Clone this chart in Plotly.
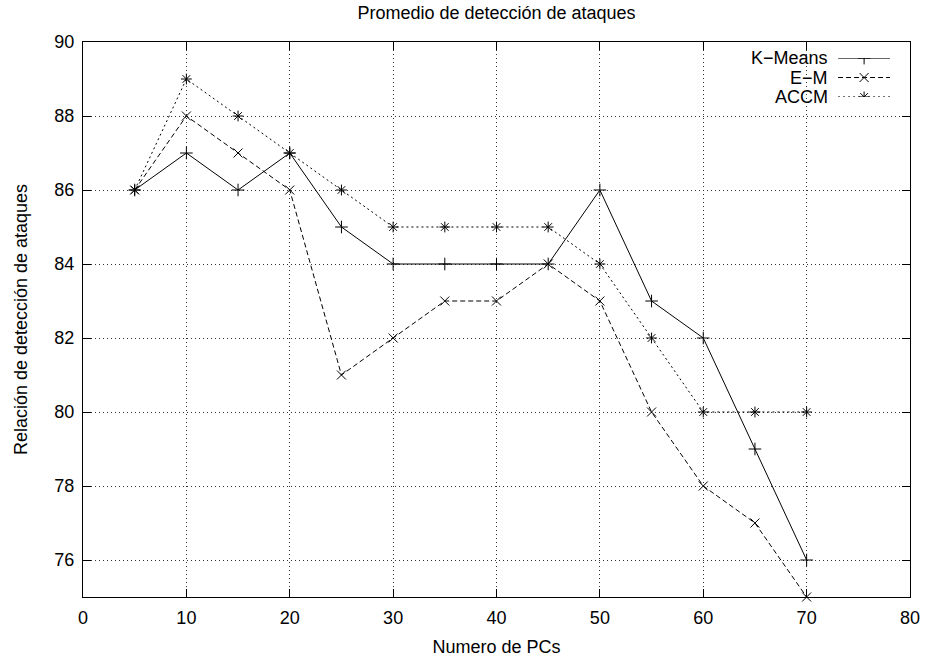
import plotly.graph_objects as go

pcs = [5, 10, 15, 20, 25, 30, 35, 40, 45, 50, 55, 60, 65, 70]
kmeans = [86, 87, 86, 87, 85, 84, 84, 84, 84, 86, 83, 82, 79, 76]
em = [86, 88, 87, 86, 81, 82, 83, 83, 84, 83, 80, 78, 77, 75]
accm = [86, 89, 88, 87, 86, 85, 85, 85, 85, 84, 82, 80, 80, 80]
names = ["K\u2212Means", "E\u2212M", "ACCM"]
dashes = ["solid", "5px,3px", "2px,3px"]
symbols = ["cross-thin-open", "x-thin-open", "asterisk-open"]

FONT = "Liberation Sans, Arial, sans-serif"
FS = 18
fig = go.Figure()
for vals, nm, d, s in zip([kmeans, em, accm], names, dashes, symbols):
    fig.add_trace(go.Scatter(x=pcs, y=vals, mode="lines+markers", name=nm,
                             line=dict(color="black", width=1, dash=d),
                             marker=dict(symbol=s, size=9, color="black",
                                         line=dict(color="black", width=1)),
                             showlegend=False, cliponaxis=False))

# gnuplot-style key (text left, sample right) on an overlay axis
leg_y = [0, 1, 2]
for i, (nm, d, s) in enumerate(zip(names, dashes, symbols)):
    fig.add_trace(go.Scatter(x=[0, 0.5, 1], y=[leg_y[i]] * 3, xaxis="x2", yaxis="y2",
                             mode="lines", line=dict(color="black", width=1, dash=d),
                             showlegend=False, hoverinfo="skip"))
    fig.add_trace(go.Scatter(x=[0.5], y=[leg_y[i]], xaxis="x2", yaxis="y2",
                             mode="markers", marker=dict(symbol=s, size=9, color="black",
                                                         line=dict(color="black", width=1)),
                             showlegend=False, hoverinfo="skip"))
    fig.add_annotation(x=0, y=leg_y[i], xref="x2", yref="y2", text=nm, showarrow=False,
                       xanchor="right", xshift=-8, font=dict(family=FONT, size=FS, color="black"))

axis_common = dict(showline=True, linecolor="black", linewidth=1, mirror="allticks",
                   ticks="inside", ticklen=8, tickcolor="black", showgrid=True,
                   gridcolor="#333333", griddash="1px,3px", gridwidth=1, zeroline=False,
                   automargin=False,
                   tickfont=dict(family=FONT, size=FS, color="black"))
fig.update_layout(
    width=928, height=657, plot_bgcolor="white", paper_bgcolor="white",
    margin=dict(l=83, r=18, t=42, b=60),
    title=dict(text="Promedio de detección de ataques", x=0.5, xref="paper", xanchor="center",
               y=1 - 13 / 657, yanchor="middle", automargin=False,
               font=dict(family=FONT, size=FS, color="black")),
    xaxis=dict(range=[0, 80], dtick=10, tick0=0, ticklabelstandoff=4,
               title=dict(text="Numero de PCs", font=dict(family=FONT, size=FS, color="black")),
               **axis_common),
    yaxis=dict(range=[75, 90], tickvals=[76, 78, 80, 82, 84, 86, 88, 90], ticklabelstandoff=4,
               title=dict(text="Relación de detección de ataques", standoff=22,
                          font=dict(family=FONT, size=FS, color="black")),
               **axis_common),
    xaxis2=dict(domain=[0.913, 0.976], range=[0, 1], visible=False, anchor="y2"),
    yaxis2=dict(domain=[0.901, 0.971], range=[2, 0], visible=False, anchor="x2"),
)
fig.write_html("out.html", config={"displayModeBar": False},
               post_script="document.body.style.margin='0';")
